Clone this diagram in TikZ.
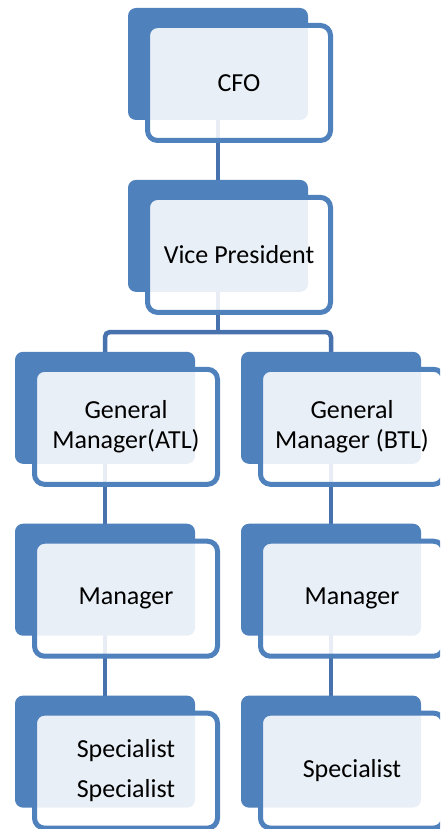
\documentclass[tikz,border=0pt]{standalone}
\usepackage{fontspec}
\setmainfont{Carlito}
\usetikzlibrary{positioning}
\pgfdeclarelayer{bg}
\pgfsetlayers{bg,main}
\definecolor{accent}{HTML}{4F81BD}
\definecolor{linkblue}{HTML}{4772AD}
\tikzset{
  backbox/.style={rectangle, rounded corners=8pt, fill=accent, minimum width=180pt,
    minimum height=112pt, inner sep=0pt},
  frontbox/.style={rectangle, rounded corners=10pt, draw=accent, line width=5pt, fill=white,
    fill opacity=0.88, text opacity=1, minimum width=183pt, minimum height=115pt,
    align=center, inner sep=0pt, font=\fontsize{26}{30}\selectfont},
  link/.style={draw=linkblue, line width=4.5pt, rounded corners=5pt}
}

\begin{document}
\begin{tikzpicture}[x=1pt, y=-1pt, node distance=59.5pt]
  \useasboundingbox (0,0) rectangle (440,829);
  \clip (0,0) rectangle (440,829);

  % back tiles
  \node (cfoB) [backbox] at (218,64) {};
  \node (vpB) [backbox, below=of cfoB] {};
  \node (gmaB) [backbox, below=of vpB, xshift=-113pt] {};
  \node (gmbB) [backbox, below=of vpB, xshift=113pt] {};
  \node (mgaB) [backbox, below=of gmaB] {};
  \node (mgbB) [backbox, below=of gmbB] {};
  \node (spaB) [backbox, below=of mgaB] {};
  \node (spbB) [backbox, below=of mgbB] {};

  % front tiles
  \node (cfo) [frontbox] at ([xshift=21pt, yshift=-19pt]cfoB.center) {CFO};
  \node (vp) [frontbox] at ([xshift=21pt, yshift=-19pt]vpB.center) {Vice President};
  \node (gma) [frontbox] at ([xshift=21pt, yshift=-19pt]gmaB.center) {General\\Manager(ATL)};
  \node (gmb) [frontbox] at ([xshift=21pt, yshift=-19pt]gmbB.center) {General\\Manager (BTL)};
  \node (mga) [frontbox] at ([xshift=21pt, yshift=-19pt]mgaB.center) {Manager};
  \node (mgb) [frontbox] at ([xshift=21pt, yshift=-19pt]mgbB.center) {Manager};
  \node (spa) [frontbox] at ([xshift=21pt, yshift=-19pt]spaB.center) {Specialist\\[10pt]Specialist};
  \node (spb) [frontbox] at ([xshift=21pt, yshift=-19pt]spbB.center) {Specialist};

  % connectors behind the tiles
  \begin{pgfonlayer}{bg}
    \fill[white] (0,0) rectangle (440,829);
    \coordinate (split) at (vpB.center |- 0,332);
    \draw[link] (cfoB.center) -- (vpB.center);
    \draw[link] (vpB.center) -- (split);
    \draw[link] (gmaB.center) |- (split) -| (gmbB.center);
    \draw[link] (gmaB.center) -- (mgaB.center);
    \draw[link] (gmbB.center) -- (mgbB.center);
    \draw[link] (mgaB.center) -- (spaB.center);
    \draw[link] (mgbB.center) -- (spbB.center);
  \end{pgfonlayer}
\end{tikzpicture}
\end{document}
